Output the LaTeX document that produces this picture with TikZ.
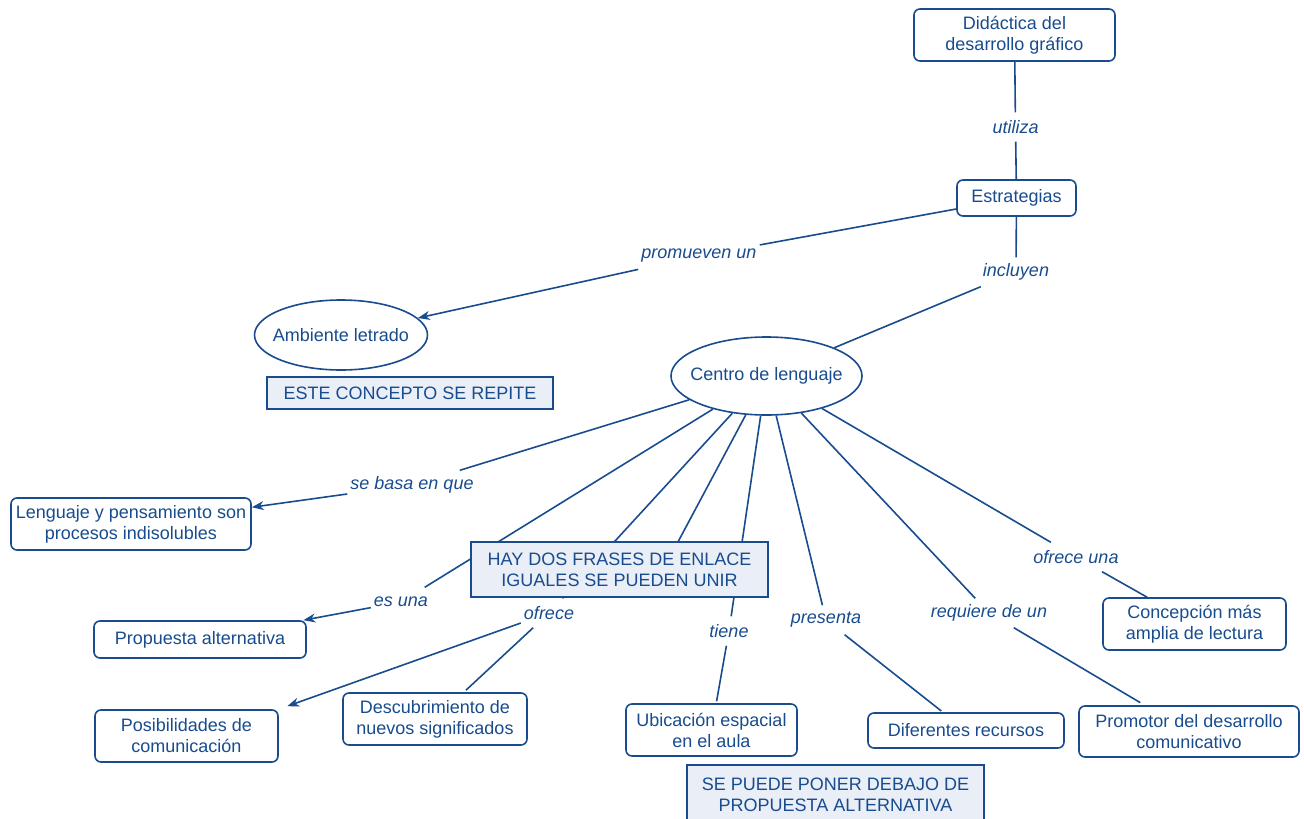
\documentclass[tikz,border=0pt]{standalone}
\usepackage{fontspec}
\setmainfont{Liberation Sans}
\usetikzlibrary{shapes.geometric,arrows.meta}
\definecolor{cblue}{RGB}{24,76,142}
\definecolor{nfill}{RGB}{234,238,247}
\begin{document}
\begin{tikzpicture}[x=1pt,y=-1pt,
  font=\fontsize{18}{21}\selectfont,
  every node/.style={text=cblue},
  concept/.style={draw=cblue,line width=1.6pt,rounded corners=6pt,fill=white,align=center,inner sep=0pt},
  oval/.style={draw=cblue,line width=1.6pt,ellipse,fill=white,inner ysep=0pt,inner xsep=-14pt},
  note/.style={draw=cblue,line width=1.4pt,fill=nfill,align=center,inner sep=0pt},
  lbl/.style={font=\fontsize{18}{21}\selectfont\itshape,inner xsep=3pt,minimum height=29pt},
  link/.style={draw=cblue,line width=1.6pt},
  arr/.style={link,-{Stealth[length=12pt,width=9pt]}}]
\useasboundingbox (0,0) rectangle (1304,819);
% concepts
\node[concept,minimum width=201pt,minimum height=52pt] (did) at (1014.5,35) {Didáctica del\\desarrollo gráfico};
\node[concept,minimum width=119pt,minimum height=36pt] (estr) at (1016.5,198) {Estrategias};
\node[oval,minimum width=173pt,minimum height=70pt] (amb) at (341,335) {Ambiente letrado};
\node[oval,minimum width=191pt,minimum height=78pt] (cen) at (766.5,376) {Centro de lenguaje};
\node[concept,minimum width=240pt,minimum height=52pt] (leng) at (131,524) {Lenguaje y pensamiento son\\procesos indisolubles};
\node[concept,minimum width=212pt,minimum height=37pt] (prop) at (200,639.5) {Propuesta alternativa};
\node[concept,minimum width=183pt,minimum height=52pt] (posib) at (186.5,736) {Posibilidades de\\comunicación};
\node[concept,minimum width=184pt,minimum height=52pt] (desc) at (435,719) {Descubrimiento de\\nuevos significados};
\node[concept,minimum width=171pt,minimum height=52pt] (ubic) at (711.5,730) {Ubicación espacial\\en el aula};
\node[concept,minimum width=196pt,minimum height=35pt] (difer) at (966,730.5) {Diferentes recursos};
\node[concept,minimum width=220pt,minimum height=51pt] (promo) at (1189,731.5) {Promotor del desarrollo\\comunicativo};
\node[concept,minimum width=183pt,minimum height=52pt] (concep) at (1194.5,624) {Concepción más\\amplia de lectura};
% linking phrases
\node[lbl] (lutil) at (1015.5,127) {utiliza};
\node[lbl] (lprom) at (699,256) {promueven un};
\node[lbl] (lincl) at (1016,272) {incluyen};
\node[lbl] (lbasa) at (412,485) {se basa en que};
\node[lbl] (lesuna) at (401,602) {es una};
\node[lbl] (lofr) at (549,613) {ofrece};
\node[lbl] (ltiene) at (729,631) {tiene};
\node[lbl] (lpres) at (826,620) {presenta};
\node[lbl] (lreq) at (989,613) {requiere de un};
\node[lbl] (lofru) at (1076,557) {ofrece una};
\coordinate (hid) at (655,585);
% connectors
\draw[link] (did) -- (lutil);
\draw[link] (lutil) -- (estr);
\draw[link] (estr) -- (lprom);
\draw[arr] (lprom) -- (amb);
\draw[link] (estr) -- (lincl);
\draw[link] (lincl) -- (cen);
\draw[link] (cen) -- (lbasa);
\draw[arr] (lbasa) -- (leng);
\draw[link] (cen) -- (lesuna);
\draw[arr] (lesuna) -- (prop);
\draw[link] (cen) -- (lofr);
\draw[link] (cen) -- (hid);
\draw[arr,shorten >=9pt] (lofr) -- (posib.north east);
\draw[link,shorten >=3pt] (lofr) -- (desc);
\draw[link] (cen) -- (ltiene);
\draw[link,shorten >=2pt] (ltiene) -- (ubic);
\draw[link] (cen) -- (lpres);
\draw[link,shorten >=2pt] (lpres) -- (difer);
\draw[link] (cen) -- (lreq);
\draw[link,shorten >=5pt] (lreq) -- (promo);
\draw[link] (cen) -- (lofru);
\draw[link] (lofru) -- (concep);
% notes
\node[note,minimum width=286pt,minimum height=32pt] (este) at (410,393) {ESTE CONCEPTO SE REPITE};
\node[note,minimum width=297pt,minimum height=55pt] (hay) at (619.5,569.5) {HAY DOS FRASES DE ENLACE\\IGUALES SE PUEDEN UNIR};
\node[note,minimum width=297pt,minimum height=60pt] (sep) at (835.5,795) {SE PUEDE PONER DEBAJO DE\\PROPUESTA ALTERNATIVA};
\end{tikzpicture}
\end{document}
